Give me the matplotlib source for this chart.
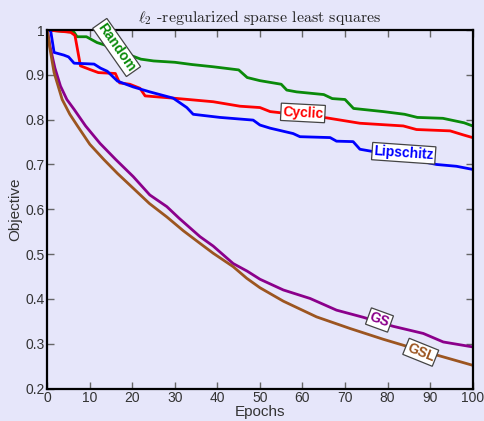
import matplotlib
matplotlib.use("Agg")
import matplotlib.pyplot as plt

plt.rcParams['mathtext.fontset'] = 'cm'
plt.rcParams['font.family'] = ['Liberation Sans', 'DejaVu Sans']

# ---- data ----
random_x = [0, 6.3, 7, 9.2, 11.7, 14, 17, 20, 22, 25, 30, 34, 39, 45, 47, 50, 55, 56.3, 58.6, 65, 67, 70, 72, 79, 84, 87, 93, 98, 100]
random_y = [1, 0.995, 0.985, 0.985, 0.972, 0.965, 0.952, 0.942, 0.935, 0.931, 0.928, 0.923, 0.918, 0.911, 0.894, 0.887, 0.879, 0.866, 0.862, 0.856, 0.847, 0.845, 0.825, 0.818, 0.812, 0.805, 0.803, 0.793, 0.786]

cyclic_x = [0, 5.5, 6.5, 7.8, 10, 12, 16, 17, 19.4, 21.8, 23, 29.6, 34.3, 39, 45.3, 50, 52.4, 58, 65.7, 73.5, 83.7, 86.8, 94.7, 97.8, 100]
cyclic_y = [1, 0.995, 0.988, 0.920, 0.912, 0.905, 0.903, 0.882, 0.879, 0.870, 0.853, 0.848, 0.844, 0.840, 0.830, 0.827, 0.818, 0.812, 0.804, 0.792, 0.786, 0.778, 0.775, 0.766, 0.760]

lips_x = [0, 0.8, 1.6, 3.9, 5, 6.3, 11, 12.5, 14.1, 16.5, 20.2, 24.1, 29.6, 32.8, 34.3, 40.6, 48.4, 50, 52.4, 57.8, 59.4, 66.5, 68, 71.9, 73.5, 75.9, 84, 91.5, 96.2, 100]
lips_y = [1, 0.998, 0.950, 0.944, 0.940, 0.926, 0.924, 0.915, 0.908, 0.886, 0.873, 0.862, 0.848, 0.827, 0.812, 0.805, 0.799, 0.788, 0.781, 0.769, 0.762, 0.760, 0.752, 0.751, 0.734, 0.730, 0.715, 0.700, 0.696, 0.689]

gs_x = [0, 0.6, 1.8, 3.1, 4.6, 6.3, 9, 12.4, 16.1, 20.2, 24.1, 28.1, 31, 35.9, 39, 43.7, 47, 50, 55.5, 61.8, 68, 74.3, 81.3, 88.4, 93.1, 100]
gs_y = [1, 0.965, 0.915, 0.875, 0.845, 0.823, 0.786, 0.747, 0.711, 0.673, 0.632, 0.606, 0.580, 0.539, 0.518, 0.479, 0.462, 0.444, 0.420, 0.401, 0.375, 0.359, 0.339, 0.323, 0.304, 0.293]

gsl_x = [0, 0.6, 1.6, 3.5, 5.3, 7.1, 10, 13.3, 16.5, 20.2, 24, 28.1, 32, 35.9, 39, 43.7, 46.9, 50, 55.5, 63.3, 71.2, 79, 85, 91.5, 100]
gsl_y = [1, 0.960, 0.905, 0.845, 0.812, 0.786, 0.745, 0.711, 0.680, 0.647, 0.613, 0.583, 0.552, 0.524, 0.502, 0.472, 0.446, 0.425, 0.395, 0.360, 0.334, 0.310, 0.293, 0.275, 0.252]

xticks = [0, 10, 20, 30, 40, 50, 60, 70, 80, 90, 100]
yticks = [0.2, 0.3, 0.4, 0.5, 0.6, 0.7, 0.8, 0.9, 1.0]
ytick_labels = ['0.2', '0.3', '0.4', '0.5', '0.6', '0.7', '0.8', '0.9', '1']

bg = '#E6E6FA'
fig = plt.figure(figsize=(4.85, 4.21), dpi=100, facecolor=bg)
ax = fig.add_axes([0.0975, 0.077, 0.877, 0.8517])
ax.set_facecolor(bg)

series = [
    (random_x, random_y, '#0a8a0a', 'Random', 16.3, 0.961, -55),
    (cyclic_x, cyclic_y, '#ff0000', 'Cyclic', 60.1, 0.815, -3),
    (lips_x, lips_y, '#0000ff', 'Lipschitz', 83.8, 0.725, -4),
    (gs_x, gs_y, '#8b008b', 'GS', 78.1, 0.353, -20),
    (gsl_x, gsl_y, '#9c5520', 'GSL', 87.8, 0.281, -22),
]
for xs, ys, c, name, lx, ly, rot in series:
    ax.plot(xs, ys, color=c, lw=2.0, zorder=2)
for xs, ys, c, name, lx, ly, rot in series:
    ax.text(lx, ly, name, color=c, fontsize=10, fontweight='bold', rotation=rot,
            ha='center', va='center', rotation_mode='anchor', zorder=5,
            bbox=dict(boxstyle='square,pad=0.12', fc='white', ec='#444444', lw=0.9))

ax.set_xlim(0, 100)
ax.set_ylim(0.2, 1.0)
ax.set_xticks(xticks)
ax.set_yticks(yticks)
ax.set_yticklabels(ytick_labels)
ax.tick_params(direction='in', length=5, width=1, color='#666666', labelcolor='#333333',
               labelsize=10, top=True, right=True, pad=2)
for s in ax.spines.values():
    s.set_linewidth(1.6)
    s.set_color('black')

ax.set_title(r'$\ell_2$ -regularized sparse least squares', fontsize=11.5, color='#222222',
             pad=6, family=['cmr10', 'DejaVu Serif'])
ax.set_xlabel('Epochs', fontsize=11, color='#333333', labelpad=0)
ax.set_ylabel('Objective', fontsize=11, color='#333333', labelpad=2)

fig.savefig('out.png', dpi=100, facecolor=bg)
